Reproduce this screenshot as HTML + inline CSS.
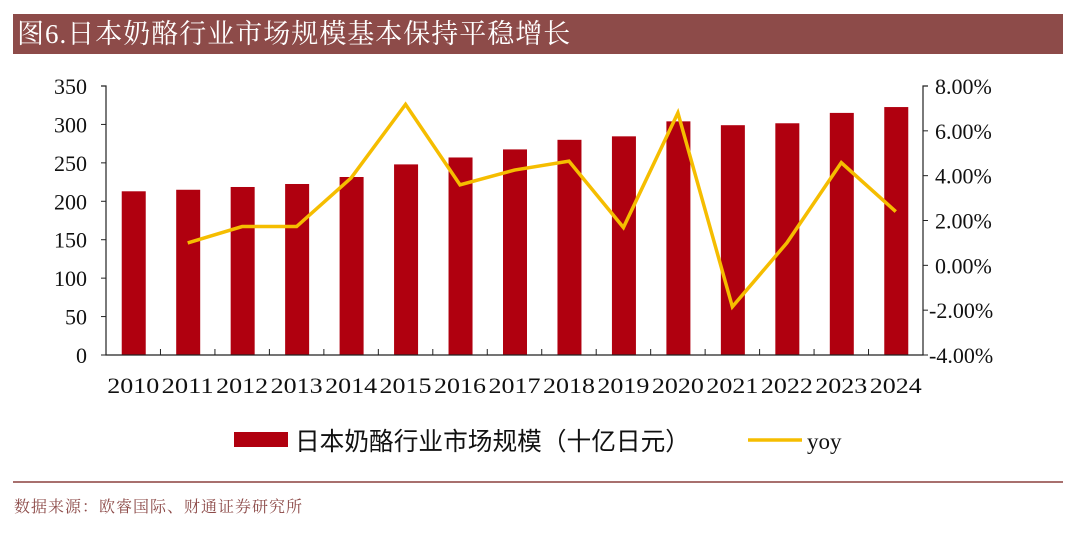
<!DOCTYPE html>
<html><head><meta charset="utf-8"><style>
body{margin:0;width:1080px;height:535px;background:#fff;overflow:hidden;position:relative;font-family:"Liberation Serif","Noto Serif CJK SC",serif}
#title{position:absolute;left:13px;top:14px;width:1050px;height:40px;background:#8d4b49;color:#fff;font-size:27px;line-height:40px;padding-left:4px;box-sizing:border-box;font-family:"Liberation Serif","Noto Serif CJK SC",serif;letter-spacing:1px}
#foot-line{position:absolute;left:13px;top:481px;width:1050px;height:2px;background:#a8706e}
#source{position:absolute;left:14px;top:494px;font-size:16px;color:#8d4b49;font-family:"Liberation Serif","Noto Serif CJK SC",serif;letter-spacing:1px}
svg{position:absolute;left:0;top:0}
</style></head><body>
<div id="title">图6.日本奶酪行业市场规模基本保持平稳增长</div>
<svg id="chart" width="1080" height="480"></svg>
<div id="foot-line"></div>
<div id="source">数据来源：欧睿国际、财通证券研究所</div>
<script>
const years=["2010","2011","2012","2013","2014","2015","2016","2017","2018","2019","2020","2021","2022","2023","2024"];
const marketSize=[213,215,218.6,222.5,231.6,248,257,267.5,280,284.5,304,299,301.5,315,322.6];
const yoy=[null,1.0,1.73,1.73,3.9,7.18,3.59,4.25,4.65,1.69,6.8,-1.85,1.0,4.58,2.4];
const leftTicks=[0,50,100,150,200,250,300,350];
const rightTicks=[-4,-2,0,2,4,6,8];
const rightTickLabels=["-4.00%","-2.00%","0.00%","2.00%","4.00%","6.00%","8.00%"];

const NS="http://www.w3.org/2000/svg";
const svg=document.getElementById('chart');
const X0=106,X1=923,Y0=355,Y1=86;
const step=(X1-X0)/years.length;
const xc=i=>X0+step*(i+0.5);
const yL=v=>Y0-(v/350)*(Y0-Y1);
const yR=v=>Y0-((v+4)/12)*(Y0-Y1);
function mk(tag,attrs){const e=document.createElementNS(NS,tag);for(const k in attrs)e.setAttribute(k,attrs[k]);svg.appendChild(e);return e;}

marketSize.forEach((v,i)=>{
  const r=mk('rect',{x:xc(i)-11.5,y:yL(v),width:24,height:Y0-yL(v),fill:'#b0000f'});
  
  
});
let a=mk('path',{d:`M${X0-5},${Y1}H${X0}V${Y0}H${X1}V${Y1}H${X1+5}`,fill:'none',stroke:'#222','stroke-width':1.2});


leftTicks.forEach(v=>{
  const t=mk('line',{x1:X0-5,x2:X0,y1:yL(v),y2:yL(v),stroke:'#222'});
  
  
  const l=mk('text',{x:X0-19,y:yL(v)+8,'text-anchor':'end','font-size':22,fill:'#111'});
  l.textContent=v;
  
  
});
rightTicks.forEach((v,i)=>{
  const t=mk('line',{x1:X1,x2:X1+5,y1:yR(v),y2:yR(v),stroke:'#222'});
  
  
  const l=mk('text',{x:v<0?X1+6:X1+12,y:yR(v)+8,'font-size':22,fill:'#111'});
  l.textContent=rightTickLabels[i];
  
  
});
years.forEach((y,i)=>{
  if(i>0){const t=mk('line',{x1:X0+step*i,x2:X0+step*i,y1:Y0,y2:Y0-6,stroke:'#222'});
  
  }
  const l=mk('text',{x:xc(i),y:393,'text-anchor':'middle','font-size':22,fill:'#111',textLength:52,lengthAdjust:'spacingAndGlyphs'});
  l.textContent=y;
  
  
});
const pts=[];yoy.forEach((v,i)=>{if(v!==null)pts.push(xc(i)+','+yR(v));});
const pl=mk('polyline',{points:pts.join(' '),fill:'none',stroke:'#f5bd00','stroke-width':3.5,'stroke-linejoin':'miter'});


let s=mk('rect',{x:234,y:432,width:54,height:15,fill:'#b0000f'});


let t=mk('text',{x:295,y:450,'font-size':25,fill:'#111','font-family':'"Liberation Sans","Noto Sans CJK SC",sans-serif',textLength:395,lengthAdjust:'spacingAndGlyphs'});
t.textContent='日本奶酪行业市场规模（十亿日元）';


let s2=mk('line',{x1:748,x2:802,y1:440,y2:440,stroke:'#f5bd00','stroke-width':3.5});


let t2=mk('text',{x:807,y:449,'font-size':23,fill:'#111'});
t2.textContent='yoy';


</script>
</body></html>
